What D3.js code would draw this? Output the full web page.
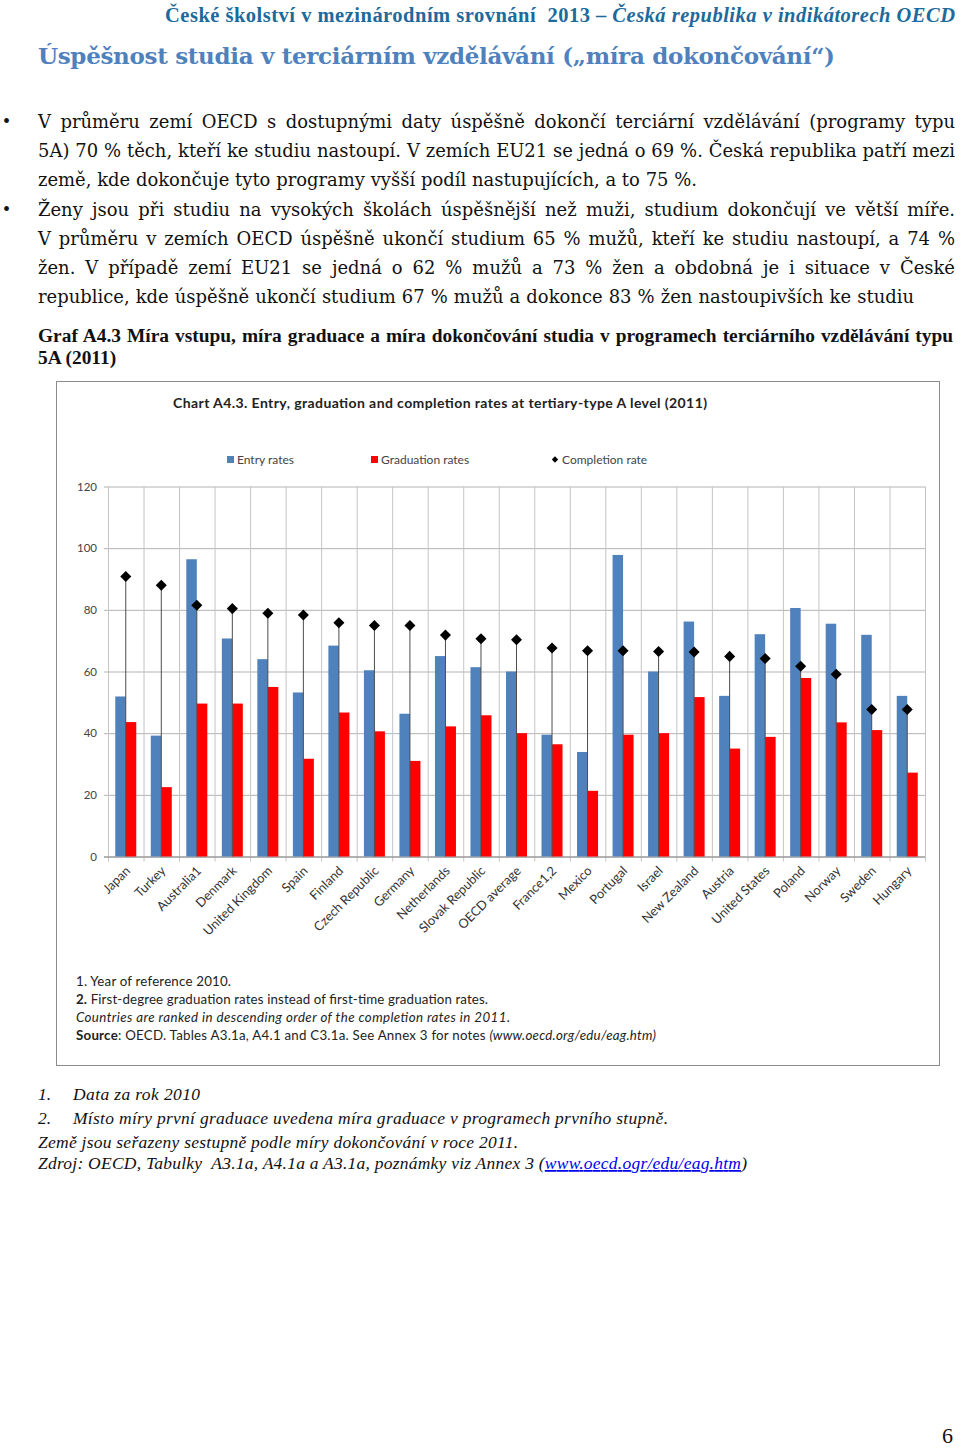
<!DOCTYPE html>
<html><head><meta charset="utf-8">
<script src="https://cdn.jsdelivr.net/npm/d3@7"></script>
<style>
html,body{margin:0;padding:0;background:#fff;}
svg{display:block;}
</style></head>
<body>
<script>
// ---------- data ----------
const categories = ["Japan","Turkey","Australia1","Denmark","United Kingdom","Spain","Finland","Czech Republic","Germany","Netherlands","Slovak Republic","OECD average","France1,2","Mexico","Portugal","Israel","New Zealand","Austria","United States","Poland","Norway","Sweden","Hungary"];
const entryRates = [51.9,39.2,96.4,70.7,64,53.2,68.4,60.4,46.3,65,61.4,60,39.5,33.9,97.8,60,76.2,52.1,72.1,80.6,75.5,71.9,52.1];
const graduationRates = [43.6,22.5,49.6,49.6,55,31.7,46.7,40.6,31,42.2,45.8,40,36.4,21.3,39.5,40,51.7,35,38.8,57.9,43.5,41,27.2];
const completionRates = [90.8,88,81.5,80.4,78.9,78.3,75.8,74.9,74.9,71.8,70.6,70.3,67.6,66.7,66.7,66.5,66.3,64.9,64.2,61.7,59.1,47.7,47.7];
const yTicks = [0,20,40,60,80,100,120];
const seriesNames = ["Entry rates","Graduation rates","Completion rate"];

const W = 960, H = 1449;
const svg = d3.select("body").append("svg").attr("width", W).attr("height", H);

// justify a text element to a target width using word spacing
function justify(sel, target) {
  const node = sel.node();
  const nat = node.getComputedTextLength();
  const spaces = (node.textContent.match(/ /g) || []).length;
  if (spaces > 0) sel.attr("word-spacing", (target - nat) / spaces);
}

// ---------- page text ----------
const serif = "'Liberation Serif', 'Times New Roman', serif";
const bodySerif = "'DejaVu Serif', serif";
const hdr = svg.append("text").attr("x",165).attr("y",22).style("white-space","pre")
  .attr("font-family",serif).attr("font-size",20.5).attr("font-weight","bold")
  .attr("fill","#1d6a9c").attr("textLength",790).attr("lengthAdjust","spacing");
hdr.append("tspan").text("České školství v mezinárodním srovnání  2013 – ");
hdr.append("tspan").attr("font-style","italic").text("Česká republika v indikátorech OECD");

svg.append("text").attr("x",38).attr("y",64)
  .attr("font-family",bodySerif).attr("font-size",23).attr("font-weight","bold")
  .attr("fill","#4f81bd").attr("textLength",797).attr("lengthAdjust","spacing")
  .text("Úspěšnost studia v terciárním vzdělávání („míra dokončování“)");

const bodyLines = [
  {t:"V průměru zemí OECD s dostupnými daty úspěšně dokončí terciární vzdělávání (programy typu", y:128, w:917, b:true},
  {t:"5A) 70 % těch, kteří ke studiu nastoupí. V zemích EU21 se jedná o 69 %. Česká republika patří mezi", y:157, w:917},
  {t:"země, kde dokončuje tyto programy vyšší podíl nastupujících, a to 75 %.", y:186, w:659},
  {t:"Ženy jsou při studiu na vysokých školách úspěšnější než muži, studium dokončují ve větší míře.", y:216, w:917, b:true},
  {t:"V průměru v zemích OECD úspěšně ukončí studium 65 % mužů, kteří ke studiu nastoupí, a 74 %", y:245, w:917},
  {t:"žen. V případě zemí EU21 se jedná o 62 % mužů a 73 % žen a obdobná je i situace v České", y:274, w:917},
  {t:"republice, kde úspěšně ukončí studium 67 % mužů a dokonce 83 % žen nastoupivších ke studiu", y:303, w:876}
];
// pick body font size so that the unjustified line matches its measured width
const probe = svg.append("text").attr("font-family",bodySerif).attr("font-size",20).text(bodyLines[2].t);
const bodySize = Math.min(20, 20 * bodyLines[2].w / probe.node().getComputedTextLength());
probe.remove();
bodyLines.forEach(l => {
  const t = svg.append("text").attr("x",38).attr("y",l.y).attr("font-family",bodySerif).attr("font-size",bodySize)
    .attr("fill","#111").text(l.t);
  justify(t, l.w);
  if (l.b) svg.append("text").attr("x",3).attr("y",l.y).attr("font-family",serif).attr("font-size",20).attr("fill","#111").text("•");
});

const cap = svg.append("text").attr("x",38).attr("y",342).attr("font-family",serif).attr("font-size",19.4).attr("font-weight","bold")
  .attr("fill","#111")
  .text("Graf A4.3 Míra vstupu, míra graduace a míra dokončování studia v programech terciárního vzdělávání typu");
justify(cap, 915);
svg.append("text").attr("x",38).attr("y",364).attr("font-family",serif).attr("font-size",19.4).attr("font-weight","bold")
  .attr("fill","#111").text("5A (2011)");

// ---------- chart box ----------
svg.append("rect").attr("x",56.5).attr("y",381.5).attr("width",883).attr("height",684)
  .attr("fill","#fff").attr("stroke","#8c8c8c").attr("stroke-width",1);

const sans = "Lato, 'Open Sans', sans-serif";
svg.append("text").attr("x",173).attr("y",408).attr("font-family",sans).attr("font-size",14).attr("font-weight","bold")
  .attr("fill","#222").attr("textLength",534).attr("lengthAdjust","spacing")
  .text("Chart A4.3. Entry, graduation and completion rates at tertiary-type A level (2011)");

const colors = ["#4f81bd","#ff0000","#000"];

// scales
const x = d3.scaleBand().domain(categories).range([108, 925]).padding(0);
const bw = x.bandwidth();
const x1 = d3.scaleBand().domain([0,1]).range([bw/2 - 10.5, bw/2 + 10.5]).padding(0);
const y = d3.scaleLinear().domain([0,120]).range([856.5, 486.5]);

// horizontal gridlines + y labels
const yAxis = d3.axisLeft(y).tickValues(yTicks).tickSize(-(925-108)).tickPadding(11).tickSizeOuter(0);
const gy = svg.append("g").attr("transform","translate(108,0)").call(yAxis);
gy.select(".domain").remove();
gy.selectAll(".tick line").attr("stroke", "#b3b3b3").attr("x1", -4);
gy.selectAll(".tick text").attr("font-family",sans).attr("font-size",11.5).attr("fill","#444");

// vertical category gridlines
const bounds = categories.map(c => x(c)).concat([x.range()[1]]);
svg.append("g").selectAll("line").data(bounds).join("line")
  .attr("x1",d=>d+0.5).attr("x2",d=>d+0.5).attr("y1",y(120)).attr("y2",y(0)+5)
  .attr("stroke","#c4c4c4").attr("stroke-width",1);

// zero axis line
svg.append("line").attr("x1",104).attr("x2",925).attr("y1",y(0)+0.5).attr("y2",y(0)+0.5)
  .attr("stroke","#8a8a8a").attr("stroke-width",1);

// bars
const rows = categories.map((c,i) => ({c, v:[entryRates[i], graduationRates[i]], comp: completionRates[i]}));
const g = svg.append("g");
rows.forEach(r => {
  r.v.forEach((v,k) => {
    g.append("rect").attr("x", x(r.c)+x1(k)).attr("width", x1.bandwidth())
      .attr("y", y(v)).attr("height", y(0)-y(v)).attr("fill", colors[k]);
  });
});

// drop lines + diamonds
const cx = c => x(c) + bw/2;
svg.append("g").selectAll("line").data(rows).join("line")
  .attr("x1",d=>cx(d.c)).attr("x2",d=>cx(d.c)).attr("y1",d=>y(d.comp)).attr("y2",y(0))
  .attr("stroke","#4d4d4d").attr("stroke-width",1);
const diamond = d3.symbol(d3.symbolDiamond2, 78);
svg.append("g").selectAll("path").data(rows).join("path")
  .attr("d", diamond).attr("transform", d=>`translate(${cx(d.c)},${y(d.comp)})`).attr("fill","#000");

// x labels
svg.append("g").selectAll("text").data(categories).join("text")
  .attr("transform", d=>`translate(${cx(d)+2},${y(0)+12}) rotate(-45)`)
  .attr("text-anchor","end").attr("dy","0.35em")
  .attr("font-family",sans).attr("font-size",12.8).attr("fill","#333").text(d=>d);

// legend
const lg = svg.append("g").attr("font-family",sans).attr("font-size",12).attr("fill","#444");
const legendX = [227, 371, 552];
seriesNames.forEach((n,i) => {
  if (i < 2) lg.append("rect").attr("x",legendX[i]).attr("y",456).attr("width",7).attr("height",7).attr("fill",colors[i]);
  else lg.append("path").attr("d", d3.symbol(d3.symbolDiamond2, 26)).attr("transform",`translate(${legendX[i]+3},459.5)`).attr("fill","#000");
  lg.append("text").attr("x",legendX[i]+10).attr("y",464).text(n);
});

// chart footnotes
const fn = svg.append("g").attr("font-family",sans).attr("font-size",13.3).attr("fill","#222");
fn.append("text").attr("x",76).attr("y",986).attr("textLength",155).attr("lengthAdjust","spacing").text("1. Year of reference 2010.");
const f2 = fn.append("text").attr("x",76).attr("y",1004).attr("textLength",412).attr("lengthAdjust","spacing");
f2.append("tspan").attr("font-weight","bold").text("2.");
f2.append("tspan").text(" First-degree graduation rates instead of first-time graduation rates.");
fn.append("text").attr("x",76).attr("y",1022).attr("font-style","italic").attr("textLength",434).attr("lengthAdjust","spacing").text("Countries are ranked in descending order of the completion rates in 2011.");
const f4 = fn.append("text").attr("x",76).attr("y",1040).attr("textLength",580).attr("lengthAdjust","spacing");
f4.append("tspan").attr("font-weight","bold").text("Source");
f4.append("tspan").text(": OECD. Tables A3.1a, A4.1 and C3.1a. See Annex 3 for notes ");
f4.append("tspan").attr("font-style","italic").text("(www.oecd.org/edu/eag.htm)");

// page footnotes
const pf = svg.append("g").attr("font-family",serif).attr("font-size",17.5).attr("font-style","italic").attr("fill","#111");
pf.append("text").attr("x",38).attr("y",1100).text("1.");
pf.append("text").attr("x",73).attr("y",1100).attr("textLength",127).attr("lengthAdjust","spacing").text("Data za rok 2010");
pf.append("text").attr("x",38).attr("y",1124).text("2.");
pf.append("text").attr("x",73).attr("y",1124).attr("textLength",595).attr("lengthAdjust","spacing").text("Místo míry první graduace uvedena míra graduace v programech prvního stupně.");
pf.append("text").attr("x",38).attr("y",1148).attr("textLength",480).attr("lengthAdjust","spacing").text("Země jsou seřazeny sestupně podle míry dokončování v roce 2011.");
const z = pf.append("text").attr("x",38).attr("y",1169).style("white-space","pre").attr("textLength",709).attr("lengthAdjust","spacing");
z.append("tspan").text("Zdroj: OECD, Tabulky  A3.1a, A4.1a a A3.1a, poznámky viz Annex 3 (");
z.append("tspan").attr("fill","#0000ee").attr("text-decoration","underline").text("www.oecd.ogr/edu/eag.htm");
z.append("tspan").text(")");

svg.append("text").attr("x",953).attr("y",1443).attr("text-anchor","end").attr("font-family",serif)
  .attr("font-size",22).attr("fill","#111").text("6");
</script>
</body></html>
